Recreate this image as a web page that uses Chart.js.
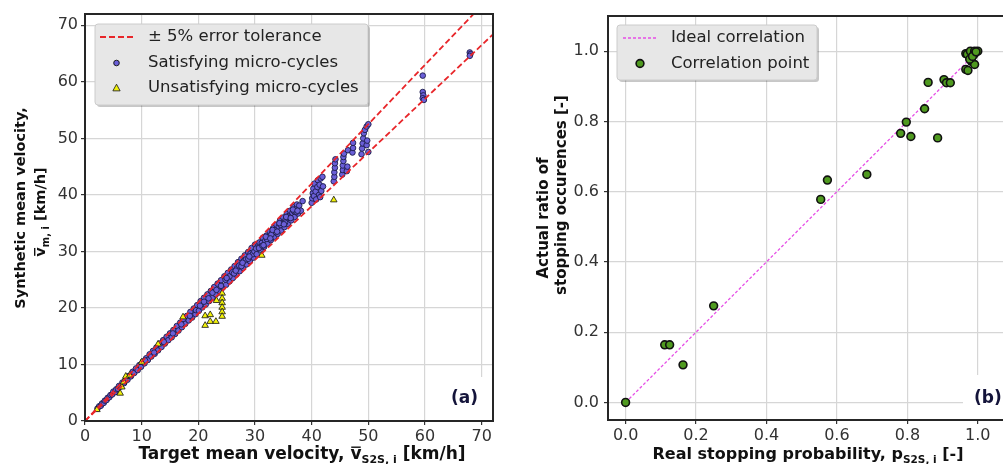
<!DOCTYPE html>
<html><head><meta charset="utf-8">
<script src="https://cdn.jsdelivr.net/npm/chart.js@4.4.0/dist/chart.umd.min.js"></script>
<style>
html,body{margin:0;padding:0;background:#fff;overflow:hidden;width:1003px;height:464px;position:relative;}
#c1{position:absolute;left:0;top:0;}
#c2{position:absolute;left:500px;top:0;}
</style></head><body>
<canvas id="c1" width="500" height="464"></canvas>
<canvas id="c2" width="520" height="464"></canvas>
<script>
// ---------------- DATA ----------------
// Panel (a): target mean velocity vs synthetic mean velocity [km/h]
const satisfying = [
[2.2,2.2],[2.5,2.6],[2.8,2.7],[3.0,3.1],[3.3,3.2],[3.5,3.6],[3.8,3.7],[4.0,4.1],[4.3,4.2],[4.5,4.6],[4.8,4.7],[5.0,5.2],[5.3,5.1],[5.5,5.6],[5.8,5.7],[6.0,6.2],[6.3,6.1],[6.6,6.8],[6.9,6.7],[7.2,7.4],[7.5,7.3],[7.8,8.0],[8.1,7.9],[8.4,8.7],[8.7,8.5],[9.0,9.3],[9.3,9.0],[9.6,9.9],[9.9,9.6],
[10.2,10.5],[10.5,10.2],[10.8,11.1],[11.1,10.8],[11.4,11.8],[11.7,11.4],[12.0,12.4],[12.3,11.9],[12.6,13.0],[12.9,12.5],[13.2,13.7],[13.5,13.1],[13.8,14.3],[14.1,13.7],[14.4,14.9],[14.7,14.3],[15.0,15.5],[15.3,14.8],[15.6,16.1],[15.9,15.4],[16.2,16.8],[16.5,16.0],[16.8,17.4],[17.1,16.6],[17.4,18.0],[17.7,17.2],[18.0,18.6],[18.3,17.8],[18.6,19.3],[18.9,18.3],[19.2,19.9],[19.5,18.9],[19.8,20.5],[10.6,10.7],[12.2,12.1],[13.9,14.0],[15.5,15.5],[17.0,17.1],[18.5,18.6],[19.6,19.6],
[20.1,19.5],[20.4,21.2],[20.7,20.1],[21.0,21.8],[21.3,20.6],[21.6,22.4],[21.9,21.2],[22.2,23.0],[22.5,21.8],[22.8,23.7],[23.1,22.4],[23.4,24.3],[23.7,23.0],[24.0,24.9],[24.3,23.6],[24.6,25.6],[24.9,24.1],[25.2,26.2],[25.5,24.7],[25.8,26.8],[26.1,25.3],[26.4,27.4],[26.7,25.9],[27.0,28.1],[27.3,26.5],[27.6,28.7],[27.9,27.1],[28.2,29.3],[28.5,27.7],[28.8,29.9],[29.1,28.3],[29.4,30.6],[29.7,28.9],[30.0,31.2],
[20.3,20.4],[21.0,21.1],[21.8,21.7],[22.5,22.7],[23.2,23.2],[24.0,23.9],[24.8,25.0],[25.5,25.6],[26.0,26.3],[26.3,26.1],[26.8,27.0],[27.2,27.5],[27.6,27.4],[28.0,28.3],[28.4,28.6],[28.8,28.7],[29.2,29.6],[29.6,29.5],[29.9,30.0],[25.0,25.3],[26.6,26.6],[27.8,28.0],[29.0,29.1],
[30.3,29.5],[30.5,30.9],[30.8,31.6],[31.0,30.3],[31.2,31.5],[31.4,32.4],[31.6,30.8],[31.8,31.9],[32.0,32.8],[32.2,31.4],[32.4,32.6],[32.6,33.5],[32.8,32.0],[33.0,33.2],[33.2,34.1],[33.4,32.6],[33.6,33.8],[33.8,34.7],[34.0,33.1],[34.2,34.4],[34.4,35.4],[34.6,33.7],[34.8,35.0],[35.0,36.0],[35.2,34.3],[35.4,35.6],[35.6,36.6],[35.8,34.9],[36.0,36.3],[36.2,37.2],[36.4,35.5],[36.6,36.8],[36.8,37.8],[37.0,36.1],[37.2,37.5],[37.4,38.3],[37.6,36.7],[37.8,38.1],[38.1,37.2],[38.4,38.9],
[30.2,30.5],[30.7,30.6],[31.3,31.0],[32.1,32.2],[32.9,33.0],[33.7,33.4],[34.5,34.7],[35.3,35.1],[36.1,36.0],[36.9,37.1],[37.3,37.0],[31.9,32.6],[33.1,33.8],[34.3,35.0],[35.5,36.1],[36.7,37.4],[31.5,31.1],[32.7,32.3],[33.9,33.5],[35.1,34.8],[36.3,35.9],[37.5,37.2],
[40.0,38.6],[40.1,39.4],[40.2,40.3],[40.3,41.1],[40.4,39.8],[40.5,42.0],[40.7,40.6],[40.8,39.2],[41.0,41.4],[41.1,42.6],[41.3,40.0],[41.4,41.8],[41.6,42.9],[41.7,40.7],[41.9,43.2],[42.0,41.5],[41.5,39.6],
[43.9,42.4],[44.0,43.2],[44.0,44.0],[44.1,44.8],[44.1,45.6],[44.2,46.3],[45.4,43.6],[45.5,44.4],[45.5,45.2],[45.6,46.0],[45.6,46.7],[45.7,47.3],[46.2,44.2],[46.3,45.0],[46.4,47.9],
[47.2,47.5],[47.3,48.3],[47.3,49.2],[48.8,47.2],[48.9,48.2],[49.0,49.1],[49.1,50.0],[49.2,50.9],[49.4,51.5],[49.7,52.1],[49.7,48.8],[49.8,49.6],[50.0,47.6],[50.0,52.5],
[59.6,61.1],[59.6,58.2],[59.7,57.6],[59.6,57.1],[59.8,56.8],
[67.9,65.2],[68.0,64.9],[67.9,64.6]
];
const unsatisfying = [
[2.1,2.0],[6.2,4.9],[6.5,6.0],[6.8,6.9],[7.2,7.9],[7.9,8.1],[10.0,10.4],[12.9,13.6],[17.3,18.4],
[21.2,18.6],[22.1,18.8],[21.2,16.9],[22.1,17.6],[23.1,17.6],[24.2,22.6],[24.2,21.7],[24.2,20.9],[24.2,20.1],[24.2,19.3],[24.2,18.5],[23.2,21.3],
[31.2,29.3],[43.9,39.1]
];
const tolerance = 0.05;            // +/- 5 % error tolerance
const toleranceLineX = [0, 72];    // extent of tolerance lines
const velocityTicks = [0,10,20,30,40,50,60,70];

// Panel (b): real stopping probability vs actual ratio of stopping occurrences
const correlation = [
[0,0],[0.111,0.164],[0.125,0.164],[0.163,0.107],[0.25,0.275],[0.554,0.578],[0.573,0.633],[0.685,0.649],
[0.781,0.766],[0.797,0.798],[0.81,0.757],[0.849,0.836],[0.859,0.911],[0.886,0.753],[0.904,0.919],[0.911,0.91],[0.922,0.91],
[0.966,0.993],[0.970,0.991],[0.979,1.0],[0.991,1.0],[1.0,1.0],[0.99,0.991],[0.982,0.971],[0.991,0.962],[0.966,0.948],[0.972,0.945],[0.977,0.977],[0.985,0.985],[0.995,0.998]
];
const idealLineX = [0, 1];
const probabilityTicks = [0,0.2,0.4,0.6,0.8,1.0];

// ---------------- HELPERS ----------------
const FAM = '"DejaVu Sans", sans-serif';
Chart.defaults.font.family = FAM;
Chart.defaults.color = '#333';

function drawRich(ctx, parts, cx, base, rot){
  ctx.save();
  if(rot){ ctx.translate(base, cx); ctx.rotate(-Math.PI/2); }
  else { ctx.translate(cx, base); }
  let w = 0;
  for(const p of parts){ ctx.font = p.font; w += ctx.measureText(p.t).width; }
  let x = -w/2;
  ctx.textAlign='left'; ctx.textBaseline='alphabetic'; ctx.fillStyle='#111';
  for(const p of parts){
    ctx.font = p.font;
    const pw = ctx.measureText(p.t).width;
    ctx.fillText(p.t, x, p.dy||0);
    if(p.over){ ctx.fillRect(x+0.8, -p.over, pw-1.6, 1.4); }
    x += pw;
  }
  ctx.restore();
}
function roundRect(ctx,x,y,w,h,r){
  ctx.beginPath(); ctx.moveTo(x+r,y); ctx.lineTo(x+w-r,y); ctx.quadraticCurveTo(x+w,y,x+w,y+r);
  ctx.lineTo(x+w,y+h-r); ctx.quadraticCurveTo(x+w,y+h,x+w-r,y+h); ctx.lineTo(x+r,y+h);
  ctx.quadraticCurveTo(x,y+h,x,y+h-r); ctx.lineTo(x,y+r); ctx.quadraticCurveTo(x,y,x+r,y); ctx.closePath();
}
function drawLegend(ctx, L){
  ctx.save();
  ctx.fillStyle='rgba(0,0,0,0.22)';
  roundRect(ctx,L.x+2,L.y+2,L.w,L.h,3); ctx.fill();
  ctx.fillStyle='#e7e7e7'; ctx.strokeStyle='#cccccc'; ctx.lineWidth=1;
  roundRect(ctx,L.x,L.y,L.w,L.h,3); ctx.fill(); ctx.stroke();
  for(const it of L.items){
    if(it.kind==='line'){
      ctx.strokeStyle=it.color; ctx.lineWidth=it.width; ctx.setLineDash(it.dash);
      ctx.beginPath(); ctx.moveTo(L.symX0, it.y); ctx.lineTo(L.symX1, it.y); ctx.stroke(); ctx.setLineDash([]);
    } else if(it.kind==='circle'){
      ctx.fillStyle=it.color; ctx.strokeStyle='#111'; ctx.lineWidth=it.bw;
      ctx.beginPath(); ctx.arc((L.symX0+L.symX1)/2, it.y, it.r, 0, Math.PI*2); ctx.fill(); ctx.stroke();
    } else if(it.kind==='triangle'){
      const cx=(L.symX0+L.symX1)/2, r=it.r;
      ctx.fillStyle=it.color; ctx.strokeStyle='#111'; ctx.lineWidth=0.8;
      ctx.beginPath(); ctx.moveTo(cx, it.y-r); ctx.lineTo(cx+r*0.95, it.y+r*0.75); ctx.lineTo(cx-r*0.95, it.y+r*0.75); ctx.closePath(); ctx.fill(); ctx.stroke();
    }
    ctx.fillStyle='#222'; ctx.font='16.5px '+FAM; ctx.textAlign='left'; ctx.textBaseline='middle';
    ctx.fillText(it.text, L.textX, it.y);
  }
  ctx.restore();
}

const deco = {
  id:'deco',
  beforeDatasetsDraw(chart, args, o){
    const ctx=chart.ctx; ctx.save(); ctx.fillStyle='#fff';
    ctx.fillRect(o.labelBox[0],o.labelBox[1],o.labelBox[2],o.labelBox[3]); ctx.restore();
  },
  afterDraw(chart, args, o){
    const ctx=chart.ctx, a=chart.chartArea;
    ctx.save();
    ctx.strokeStyle='#262626'; ctx.lineWidth=2;
    ctx.strokeRect(a.left, a.top, a.right-a.left, a.bottom-a.top);
    ctx.restore();
    ctx.save(); ctx.font='bold 17px '+FAM; ctx.fillStyle='#14143a'; ctx.textAlign='left'; ctx.textBaseline='middle';
    ctx.fillText(o.label, o.labelPos[0], o.labelPos[1]); ctx.restore();
    for(const t of o.titles) drawRich(ctx, t.parts, t.c, t.b, t.rot);
    drawLegend(ctx, o.legend);
  }
};

function tickAxis(min,max,values,fmt,pad,fit,isX){
  return {
    type:'linear', min:min, max:max,
    afterBuildTicks: ax => { ax.ticks = values.map(v=>({value:v})); },
    ticks:{ font:{size:16}, color:'#333', padding:pad, autoSkip:false, maxRotation:0, callback: v => fmt(v) },
    grid:{ color:'#d6d6d6', lineWidth:1.2, tickLength:4, tickColor:'#333', drawTicks:true },
    border:{ display:false },
    afterFit: ax => { if(isX) ax.height = fit; else ax.width = fit; }
  };
}

// ---------------- CHART (a) ----------------
const upperLine = toleranceLineX.map(x=>({x:x, y:x*(1+tolerance)}));
const lowerLine = toleranceLineX.map(x=>({x:x, y:x*(1-tolerance)}));
const fBb = 'bold 14.5px '+FAM;
new Chart(document.getElementById('c1'), {
  type:'scatter',
  data:{ datasets:[
    { label:'± 5% error tolerance', data: upperLine, showLine:true, borderColor:'#e8262a', borderWidth:1.8, borderDash:[6,3], pointRadius:0, fill:false },
    { label:'± 5% error tolerance (lower)', data: lowerLine, showLine:true, borderColor:'#e8262a', borderWidth:1.8, borderDash:[6,3], pointRadius:0, fill:false },
    { label:'Unsatisfying micro-cycles', data: unsatisfying.map(p=>({x:p[0],y:p[1]})), pointStyle:'triangle', pointRadius:3.8, backgroundColor:'#f2f20a', borderColor:'#111', borderWidth:0.8 },
    { label:'Satisfying micro-cycles', data: satisfying.map(p=>({x:p[0],y:p[1]})), pointStyle:'circle', pointRadius:2.8, backgroundColor:'#6a5fd8', borderColor:'#1c1c4a', borderWidth:0.9 }
  ]},
  options:{
    responsive:false, animation:false, devicePixelRatio:1,
    layout:{ padding:{ left:0, top:14, right:7, bottom:0 } },
    scales:{
      x: tickAxis(0,72,velocityTicks,v=>String(v),2,43,true),
      y: tickAxis(0,72,velocityTicks,v=>String(v),3,85,false)
    },
    plugins:{
      legend:{display:false}, tooltip:{enabled:false},
      deco:{
        label:'(a)', labelPos:[451,399], labelBox:[440,377,52,43],
        titles:[
          { rot:false, c:302, b:459, parts:[
            {t:'Target mean velocity, ', font:'bold 17px '+FAM},
            {t:'v', font:'bold 17px '+FAM, over:12.5},
            {t:'S2S, i', font:'bold 11px '+FAM, dy:3.5},
            {t:' [km/h]', font:'bold 17px '+FAM} ]},
          { rot:true, c:208, b:25, parts:[ {t:'Synthetic mean velocity,', font:fBb} ]},
          { rot:true, c:212, b:45, parts:[
            {t:'v', font:fBb, over:11},
            {t:'m, i', font:'bold 10px '+FAM, dy:3.5},
            {t:' [km/h]', font:fBb} ]}
        ],
        legend:{ x:95, y:24, w:273, h:81, symX0:100, symX1:133, textX:148, items:[
          {kind:'line', color:'#e8262a', width:1.8, dash:[6,3], y:37, text:'± 5% error tolerance'},
          {kind:'circle', color:'#6a5fd8', r:2.8, bw:0.9, y:63, text:'Satisfying micro-cycles'},
          {kind:'triangle', color:'#f2f20a', r:3.8, y:88, text:'Unsatisfying micro-cycles'}
        ]}
      }
    }
  },
  plugins:[deco]
});

// ---------------- CHART (b) ----------------
const idealLine = idealLineX.map(x=>({x:x, y:x}));
new Chart(document.getElementById('c2'), {
  type:'scatter',
  data:{ datasets:[
    { label:'Correlation point', data: correlation.map(p=>({x:p[0],y:p[1]})), pointStyle:'circle', pointRadius:3.9, backgroundColor:'#4f9a1f', borderColor:'#111', borderWidth:1.6 },
    { label:'Ideal correlation', data: idealLine, showLine:true, borderColor:'#e64fe6', borderWidth:1.3, borderDash:[3,2], pointRadius:0, fill:false }
  ]},
  options:{
    responsive:false, animation:false, devicePixelRatio:1,
    layout:{ padding:{ left:0, top:16, right:7, bottom:0 } },
    scales:{
      x: tickAxis(-0.05,1.1,probabilityTicks,v=>v.toFixed(1),2,44,true),
      y: tickAxis(-0.05,1.1,probabilityTicks,v=>v.toFixed(1),5,108,false)
    },
    plugins:{
      legend:{display:false}, tooltip:{enabled:false},
      deco:{
        label:'(b)', labelPos:[474,399], labelBox:[463,375,60,44],
        titles:[
          { rot:false, c:308, b:459, parts:[
            {t:'Real stopping probability, ', font:'bold 16px '+FAM},
            {t:'p', font:'bold 16px '+FAM},
            {t:'S2S, i', font:'bold 10.5px '+FAM, dy:3.5},
            {t:' [-]', font:'bold 16px '+FAM} ]},
          { rot:true, c:218, b:48, parts:[ {t:'Actual ratio of', font:'bold 15px '+FAM} ]},
          { rot:true, c:195, b:66, parts:[ {t:'stopping occurences [-]', font:'bold 15px '+FAM} ]}
        ],
        legend:{ x:117, y:25, w:200, h:55, symX0:123, symX1:157, textX:171, items:[
          {kind:'line', color:'#e64fe6', width:1.3, dash:[3,2], y:38, text:'Ideal correlation'},
          {kind:'circle', color:'#4f9a1f', r:3.9, bw:1.6, y:63.5, text:'Correlation point'}
        ]}
      }
    }
  },
  plugins:[deco]
});
</script>
</body></html>
